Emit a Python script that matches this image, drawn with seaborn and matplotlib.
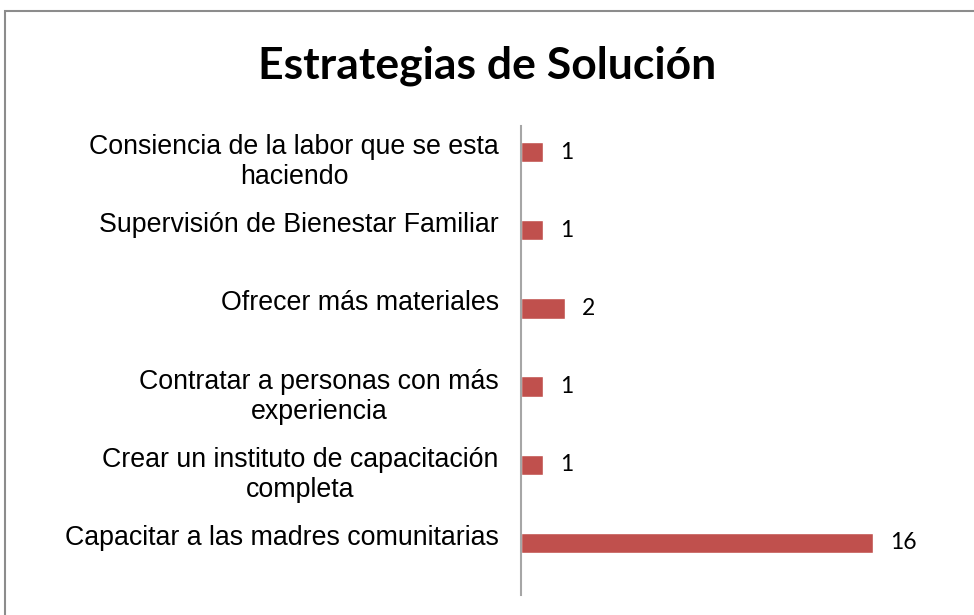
import matplotlib
matplotlib.use("Agg")
import matplotlib.pyplot as plt
import matplotlib.transforms as mtransforms
from matplotlib.patches import Rectangle
import pandas as pd
import seaborn as sns

# categories, top to bottom as in the chart
categories = [
    "Consiencia de la labor que se esta\nhaciendo",
    "Supervisión de Bienestar Familiar",
    "Ofrecer más materiales",
    "Contratar a personas con más\nexperiencia",
    "Crear un instituto de capacitación\ncompleta",
    "Capacitar a las madres comunitarias",
]
counts = [1, 1, 2, 1, 1, 16]
title = "Estrategias de Solución"

df = pd.DataFrame({"estrategia": categories, "n": counts})

sns.set_style("white")
plt.rcParams["font.family"] = ["Liberation Sans", "DejaVu Sans"]

fig = plt.figure(figsize=(9.74, 6.15), dpi=100)
# chart frame (cropped on the right and bottom like the screenshot)
fig.patches.append(Rectangle((5 / 974, -0.1), 1.2, 1 - 11 / 615 + 0.1,
                             transform=fig.transFigure, fill=False,
                             edgecolor="#8c8c8c", linewidth=1.5))

ax = fig.add_axes([521 / 974, 1 - 595 / 615, 440 / 974, 469 / 615])
sns.barplot(data=df, x="n", y="estrategia", order=categories, orient="h",
            color="#C0504D", width=0.26, saturation=1, ax=ax)

ax.set_xlim(0, 20)
ax.set_ylim(5.667, -0.333)
ax.set_xlabel("")
ax.set_ylabel("")
ax.set_xticks([])
for s in ["top", "right", "bottom"]:
    ax.spines[s].set_visible(False)
ax.spines["left"].set_color("#a6a6a6")
ax.spines["left"].set_linewidth(1.5)
ax.tick_params(axis="y", length=0, pad=16, labelsize=19.3, labelcolor="black")

# Excel-like vertical placement of the category labels
for lab in ax.get_yticklabels():
    lab.set_multialignment("center")
    dy = -5 if "\n" in lab.get_text() else 8
    lab.set_transform(lab.get_transform() +
                      mtransforms.ScaledTranslation(0, dy / 100, fig.dpi_scale_trans))

for i, v in enumerate(counts):
    ax.annotate(str(v), (v, i), xytext=(12, 0), textcoords="offset points",
                ha="left", va="center", fontsize=16.5, color="black",
                family=["Lato", "DejaVu Sans"])

fig.text(0.5, 1 - 66 / 615, title, ha="center", va="center", color="black",
         fontsize=32, fontweight="bold", family=["Lato", "DejaVu Sans"])

fig.savefig("out.png", dpi=100)
